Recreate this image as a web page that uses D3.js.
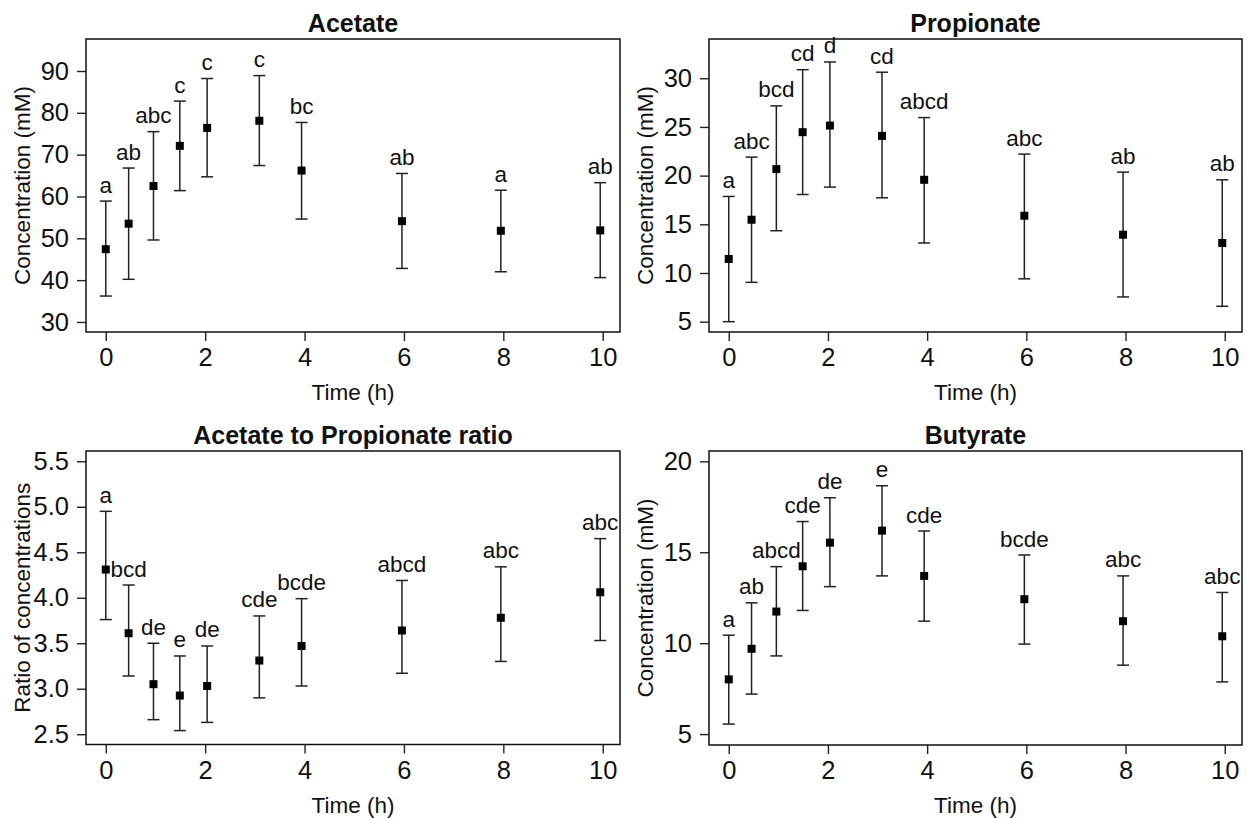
<!DOCTYPE html>
<html>
<head>
<meta charset="utf-8">
<script src="https://cdn.jsdelivr.net/npm/d3@7"></script>
<style>
  html, body { margin: 0; padding: 0; background: #fff; }
  svg { display: block; }
  text { font-family: "Liberation Sans", Arial, sans-serif; fill: #111; }
</style>
</head>
<body>
<svg id="chart" width="1247" height="818"></svg>
<script>
// ---------- data ----------
const times = [0, 0.46, 0.96, 1.49, 2.04, 3.09, 3.94, 5.96, 7.95, 9.95];
const xTicks = [0, 2, 4, 6, 8, 10];

const acetateMean = [47.4, 53.5, 62.5, 72.1, 76.4, 78.1, 66.2, 54.1, 51.8, 51.9];
const acetateLow  = [36.2, 40.2, 49.6, 61.4, 64.7, 67.4, 54.6, 42.8, 42.0, 40.6];
const acetateHigh = [58.9, 66.8, 75.5, 82.8, 88.2, 88.9, 77.7, 65.5, 61.5, 63.3];
const acetateLetters = ["a", "ab", "abc", "c", "c", "c", "bc", "ab", "a", "ab"];
const acetateTicks = [30, 40, 50, 60, 70, 80, 90];

const propionateMean = [11.44, 15.47, 20.67, 24.46, 25.14, 24.08, 19.57, 15.88, 13.93, 13.08];
const propionateLow  = [5.0, 9.04, 14.34, 18.06, 18.82, 17.72, 13.08, 9.4, 7.54, 6.58];
const propionateHigh = [17.86, 21.9, 27.16, 30.88, 31.67, 30.62, 25.96, 22.21, 20.36, 19.57];
const propionateLetters = ["a", "abc", "bcd", "cd", "d", "cd", "abcd", "abc", "ab", "ab"];
const propionateTicks = [5, 10, 15, 20, 25, 30];

const ratioMean = [4.31, 3.61, 3.05, 2.925, 3.03, 3.31, 3.47, 3.64, 3.78, 4.06];
const ratioLow  = [3.76, 3.14, 2.66, 2.54, 2.63, 2.90, 3.03, 3.17, 3.30, 3.53];
const ratioHigh = [4.95, 4.14, 3.50, 3.36, 3.47, 3.80, 3.99, 4.19, 4.34, 4.65];
const ratioLetters = ["a", "bcd", "de", "e", "de", "cde", "bcde", "abcd", "abc", "abc"];
const ratioTicks = [2.5, 3.0, 3.5, 4.0, 4.5, 5.0, 5.5];

const butyrateMean = [8.01, 9.69, 11.74, 14.23, 15.53, 16.19, 13.70, 12.42, 11.21, 10.38];
const butyrateLow  = [5.55, 7.20, 9.30, 11.80, 13.11, 13.70, 11.21, 9.95, 8.79, 7.87];
const butyrateHigh = [10.44, 12.22, 14.21, 16.69, 18.00, 18.66, 16.17, 14.85, 13.70, 12.79];
const butyrateLetters = ["a", "ab", "abcd", "cde", "de", "e", "cde", "bcde", "abc", "abc"];
const butyrateTicks = [5, 10, 15, 20];

// ---------- layout ----------
const panels = [
  { title: "Acetate", ylab: "Concentration (mM)", mean: acetateMean, low: acetateLow, high: acetateHigh,
    letters: acetateLetters, ticks: acetateTicks, fmt: d3.format("d"), ydom: [27.6, 97.65],
    box: { x0: 86, x1: 620, y0: 39, y1: 332 } },
  { title: "Propionate", ylab: "Concentration (mM)", mean: propionateMean, low: propionateLow, high: propionateHigh,
    letters: propionateLetters, ticks: propionateTicks, fmt: d3.format("d"), ydom: [3.94, 34.03],
    box: { x0: 709, x1: 1242, y0: 39, y1: 332 } },
  { title: "Acetate to Propionate ratio", ylab: "Ratio of concentrations", mean: ratioMean, low: ratioLow, high: ratioHigh,
    letters: ratioLetters, ticks: ratioTicks, fmt: d3.format(".1f"), ydom: [2.387, 5.613],
    box: { x0: 86, x1: 620, y0: 451, y1: 744.5 } },
  { title: "Butyrate", ylab: "Concentration (mM)", mean: butyrateMean, low: butyrateLow, high: butyrateHigh,
    letters: butyrateLetters, ticks: butyrateTicks, fmt: d3.format("d"), ydom: [4.40, 20.57],
    box: { x0: 709, x1: 1242, y0: 451, y1: 745 } }
];

const svg = d3.select("#chart");
const xDomain = [-0.398, 10.348];

panels.forEach(p => {
  const b = p.box;
  const x = d3.scaleLinear().domain(xDomain).range([b.x0, b.x1]);
  const y = d3.scaleLinear().domain(p.ydom).range([b.y1, b.y0]);
  const g = svg.append("g");

  // x axis
  const xa = g.append("g").attr("transform", `translate(0,${b.y1})`)
    .call(d3.axisBottom(x).tickValues(xTicks).tickSize(9).tickPadding(7).tickFormat(d3.format("d")));
  xa.select(".domain").remove();
  xa.selectAll("line").attr("stroke", "#222").attr("stroke-width", 1.4);
  xa.selectAll("text").attr("font-size", 25.5).attr("fill", "#111")
    .attr("font-family", "'Liberation Sans', Arial, sans-serif");

  // y axis
  const ya = g.append("g").attr("transform", `translate(${b.x0},0)`)
    .call(d3.axisLeft(y).tickValues(p.ticks).tickSize(9).tickPadding(8).tickFormat(p.fmt));
  ya.select(".domain").remove();
  ya.selectAll("line").attr("stroke", "#222").attr("stroke-width", 1.4);
  ya.selectAll("text").attr("font-size", 25.5).attr("fill", "#111")
    .attr("font-family", "'Liberation Sans', Arial, sans-serif");

  // box
  g.append("rect").attr("x", b.x0).attr("y", b.y0)
    .attr("width", b.x1 - b.x0).attr("height", b.y1 - b.y0)
    .attr("fill", "none").attr("stroke", "#111").attr("stroke-width", 1.5);

  // title
  g.append("text").attr("x", (b.x0 + b.x1) / 2).attr("y", b.y0 - 7.5)
    .attr("text-anchor", "middle").attr("font-size", 25).attr("font-weight", "bold")
    .text(p.title);

  // x label
  g.append("text").attr("x", (b.x0 + b.x1) / 2).attr("y", b.y1 + 68)
    .attr("text-anchor", "middle").attr("font-size", 22.5).text("Time (h)");

  // y label
  const ly = (b.y0 + b.y1) / 2;
  const lx = b.x0 - 56;
  g.append("text").attr("transform", `translate(${lx},${ly}) rotate(-90)`)
    .attr("text-anchor", "middle").attr("font-size", 22.5).text(p.ylab);

  // error bars
  const idx = d3.range(times.length);
  const eb = g.append("g").attr("stroke", "#222").attr("stroke-width", 1.5);
  eb.selectAll("line.v").data(idx).join("line")
    .attr("x1", i => x(times[i])).attr("x2", i => x(times[i]))
    .attr("y1", i => y(p.low[i])).attr("y2", i => y(p.high[i]));
  eb.selectAll("line.t").data(idx).join("line")
    .attr("x1", i => x(times[i]) - 6).attr("x2", i => x(times[i]) + 6)
    .attr("y1", i => y(p.high[i])).attr("y2", i => y(p.high[i]));
  eb.selectAll("line.b").data(idx).join("line")
    .attr("x1", i => x(times[i]) - 6).attr("x2", i => x(times[i]) + 6)
    .attr("y1", i => y(p.low[i])).attr("y2", i => y(p.low[i]));

  // points
  g.selectAll("rect.pt").data(idx).join("rect")
    .attr("x", i => x(times[i]) - 4).attr("y", i => y(p.mean[i]) - 4)
    .attr("width", 8).attr("height", 8).attr("fill", "#000");

  // letters
  g.selectAll("text.lt").data(idx).join("text")
    .attr("x", i => x(times[i])).attr("y", i => y(p.high[i]) - 8.5)
    .attr("text-anchor", "middle").attr("font-size", 22.5)
    .text(i => p.letters[i]);
});
</script>
</body>
</html>
